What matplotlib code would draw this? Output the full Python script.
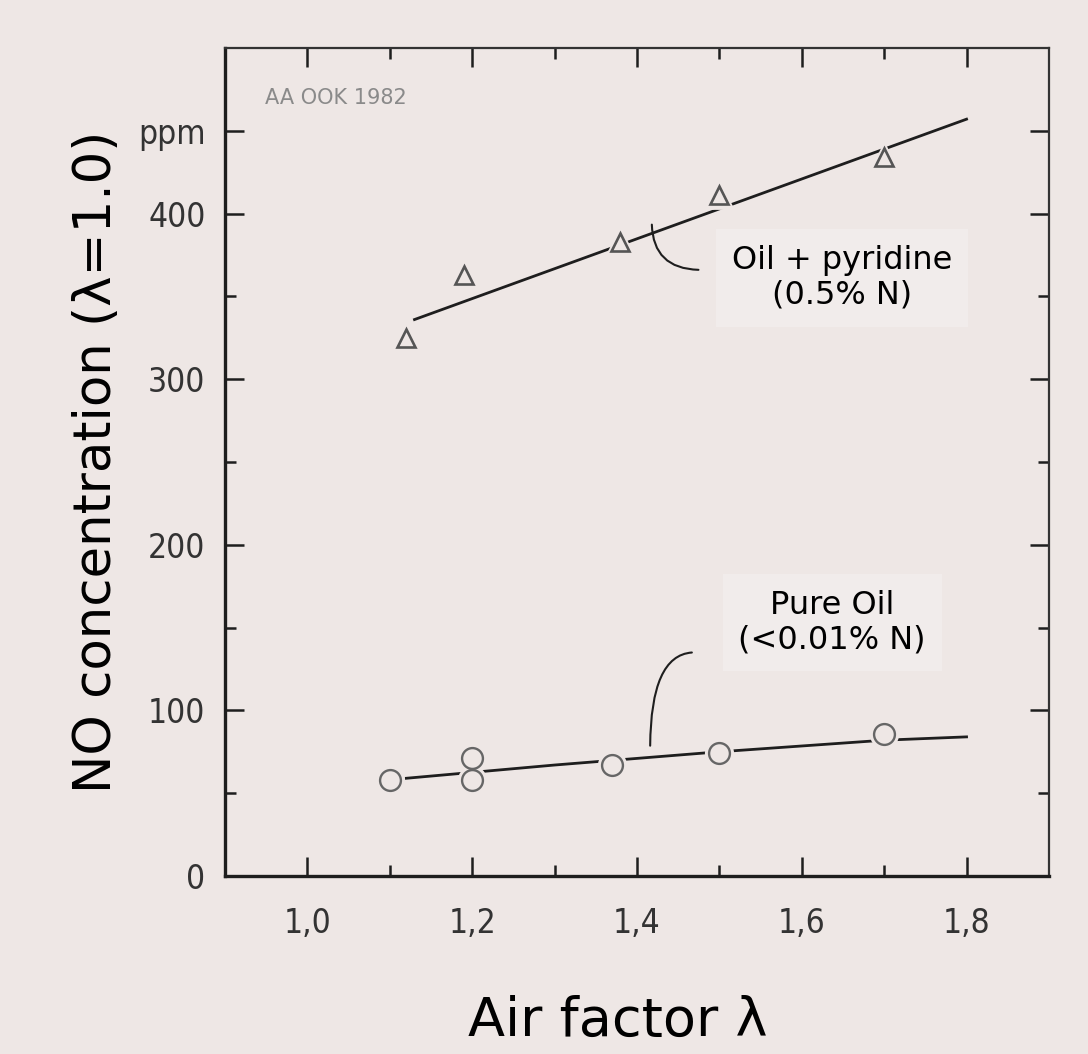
import numpy as np
import matplotlib
matplotlib.use('Agg')
import matplotlib.pyplot as plt

pyr_x = [1.12, 1.19, 1.38, 1.50, 1.70]
pyr_y = [325, 363, 383, 411, 434]
pyr_fit_x = [1.13, 1.80]
pyr_fit_y = [336, 457]

oil_x = [1.10, 1.20, 1.20, 1.37, 1.50, 1.70]
oil_y = [58, 71, 58, 67, 74, 86]
oil_fit_x = [1.12, 1.30, 1.50, 1.70, 1.80]
oil_fit_y = [59, 67, 75, 82, 84]

x_ticks = [1.0, 1.2, 1.4, 1.6, 1.8]
x_labels = ['1,0', '1,2', '1,4', '1,6', '1,8']
y_ticks = [0, 100, 200, 300, 400, 450]
y_labels = ['0', '100', '200', '300', '400', 'ppm']

bg = '#eee7e5'
ink = '#1e1e1e'

fig = plt.figure(figsize=(10.88, 10.54), dpi=100, facecolor=bg)
ax = fig.add_axes([0.2068, 0.1689, 0.7573, 0.7856], facecolor=bg)

# fitted lines
ax.plot(pyr_fit_x, pyr_fit_y, color=ink, lw=2.0, zorder=2)
ax.plot(oil_fit_x, oil_fit_y, color=ink, lw=2.0, zorder=2)

# background halo under markers to break the line, then hollow markers
ax.plot(pyr_x, pyr_y, ls='none', marker='^', ms=19, mfc=bg, mec=bg, mew=2, zorder=3)
ax.plot(pyr_x, pyr_y, ls='none', marker='^', ms=13.5, mfc=bg, mec='#555555', mew=1.9, zorder=4)
ax.plot(oil_x, oil_y, ls='none', marker='o', ms=19, mfc=bg, mec=bg, mew=2, zorder=3)
ax.plot(oil_x, oil_y, ls='none', marker='o', ms=15, mfc=bg, mec='#666666', mew=1.7, zorder=4)

# leader arcs
ax.annotate('', xy=(1.478, 366), xytext=(1.418, 395),
            arrowprops=dict(arrowstyle='-', color=ink, lw=1.5,
                            connectionstyle='angle3,angleA=90,angleB=0'))
ax.annotate('', xy=(1.470, 135), xytext=(1.416, 77),
            arrowprops=dict(arrowstyle='-', color=ink, lw=1.5,
                            connectionstyle='angle3,angleA=90,angleB=0'))

ax.text(1.649, 361, 'Oil + pyridine\n(0.5% N)', ha='center', va='center',
        fontsize=23, color='black', linespacing=1.15,
        bbox=dict(boxstyle='square,pad=0.5', facecolor='#f1eceb', edgecolor='none'))
ax.text(1.637, 153, 'Pure Oil\n(<0.01% N)', ha='center', va='center',
        fontsize=23, color='black', linespacing=1.15,
        bbox=dict(boxstyle='square,pad=0.5', facecolor='#f1eceb', edgecolor='none'))

ax.text(0.948, 470, 'AA OOK 1982', ha='left', va='center', fontsize=15,
        color='#8a8a8a')

ax.set_xlim(0.9, 1.9)
ax.set_ylim(0, 500)

ax.set_xticks(x_ticks)
ax.set_xticklabels(x_labels)
ax.set_xticks(np.arange(1.1, 1.8, 0.2), minor=True)
ax.set_yticks(y_ticks)
ax.set_yticklabels(y_labels)
ax.set_yticks(np.arange(50, 500, 100), minor=True)

ax.tick_params(which='both', direction='in', top=True, right=True,
               color=ink, labelcolor='#333333', labelsize=24, width=1.8)
ax.tick_params(which='major', length=14)
ax.tick_params(axis='x', which='major', pad=22)
ax.tick_params(axis='y', which='major', pad=14)
ax.tick_params(which='minor', length=8)
for lbl in ax.get_xticklabels() + ax.get_yticklabels():
    lbl.set_fontstretch('condensed')

for side in ['left', 'bottom']:
    ax.spines[side].set_linewidth(2.4)
    ax.spines[side].set_color(ink)
for side in ['top', 'right']:
    ax.spines[side].set_linewidth(1.6)
    ax.spines[side].set_color('#333333')

fig.text(0.089, 0.5617, 'NO concentration (λ=1.0)', rotation=90, ha='center',
         va='center', fontsize=37, color='black')
fig.text(0.568, 0.031, 'Air factor λ', ha='center', va='center',
         fontsize=39, color='black')

fig.savefig('out.png', dpi=100, facecolor=bg)
